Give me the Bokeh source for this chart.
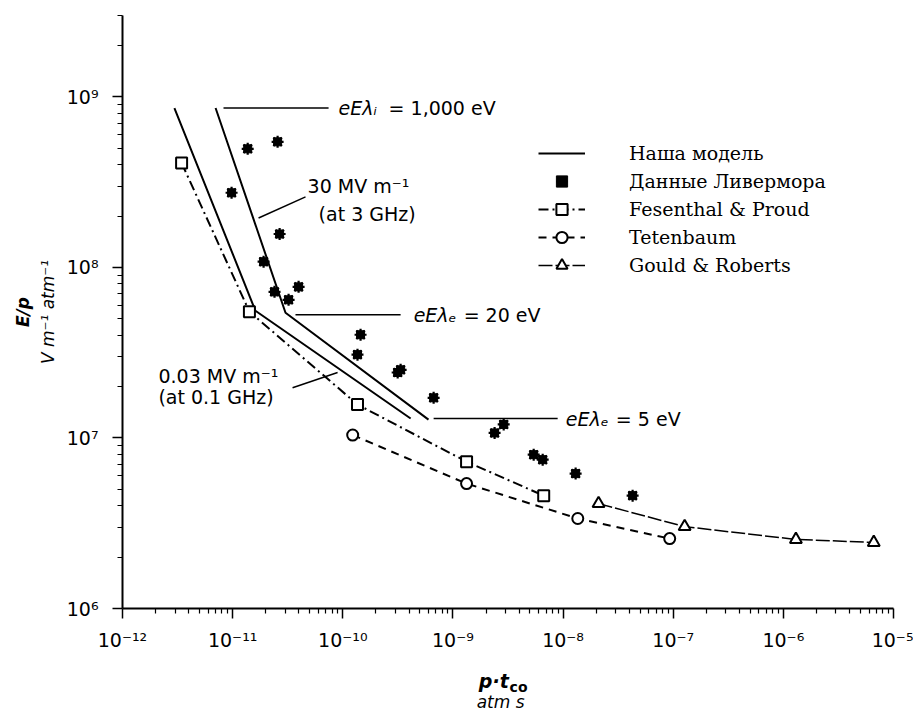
import math
from bokeh.plotting import figure
from bokeh.layouts import column
from bokeh.models import (Range1d, FixedTicker, CustomJSTickFormatter, Label,
                          Legend, LegendItem, Title)
from bokeh.embed import file_html
from bokeh.resources import INLINE

# ---------------- data ----------------
# Our model: two solid lines
model_a_x = [7.0e-12, 3.02e-11, 6.0e-10]
model_a_y = [8.6e8, 5.42e7, 1.28e7]
model_b_x = [2.96e-12, 1.61e-11, 4.13e-10]
model_b_y = [8.6e8, 5.57e7, 1.30e7]

# Livermore data (stars)
liv_x = [1.37e-11, 2.56e-11, 9.78e-12, 2.67e-11, 1.91e-11, 2.40e-11, 3.97e-11,
         3.22e-11, 1.45e-10, 1.36e-10, 3.15e-10, 3.35e-10, 6.68e-10, 2.39e-9,
         2.89e-9, 5.41e-9, 6.53e-9, 1.30e-8, 4.28e-8]
liv_y = [4.96e8, 5.45e8, 2.74e8, 1.57e8, 1.08e8, 7.19e7, 7.69e7,
         6.46e7, 4.03e7, 3.08e7, 2.42e7, 2.51e7, 1.72e7, 1.07e7,
         1.20e7, 7.98e6, 7.46e6, 6.18e6, 4.59e6]

# Fesenthal & Proud (squares, dash-dot)
fes_x = [3.44e-12, 1.42e-11, 1.36e-10, 1.33e-9, 6.67e-9]
fes_y = [4.10e8, 5.50e7, 1.57e7, 7.26e6, 4.59e6]

# Tetenbaum (circles, dashed)
tet_x = [1.23e-10, 1.33e-9, 1.36e-8, 9.29e-8]
tet_y = [1.04e7, 5.40e6, 3.37e6, 2.57e6]

# Gould & Roberts (triangles)
gou_x = [2.10e-8, 1.27e-7, 1.30e-6, 6.62e-6]
gou_y = [4.12e6, 3.02e6, 2.54e6, 2.44e6]

legend_labels = ["Наша модель", "Данные Ливермора", "Fesenthal & Proud",
                 "Tetenbaum", "Gould & Roberts"]

x_major = [1e-12, 1e-11, 1e-10, 1e-9, 1e-8, 1e-7, 1e-6, 1e-5]
y_major = [1e6, 1e7, 1e8, 1e9]

W = 913
FONT = "DejaVu Sans"

# ---------------- figure ----------------
p = figure(width=W, height=655, x_axis_type="log", y_axis_type="log",
           x_range=Range1d(1e-12, 1e-5), y_range=Range1d(1e6, 3e9),
           output_backend="svg", toolbar_location=None,
           min_border_left=122, min_border_right=20,
           min_border_top=15, min_border_bottom=47)
p.outline_line_color = None
p.grid.visible = False
p.background_fill_color = "white"
p.border_fill_color = "white"

def minors(majors):
    out = []
    for m in majors[:-1]:
        for k in range(2, 10):
            out.append(m * k)
    return out

y_minor = minors(y_major) + [2e9, 3e9]
p.xaxis.ticker = FixedTicker(ticks=x_major, minor_ticks=minors(x_major))
p.yaxis.ticker = FixedTicker(ticks=y_major, minor_ticks=y_minor)

fmt_code = """
const e = Math.round(Math.log10(tick));
const sup = {'-':'\u207b','0':'\u2070','1':'\u00b9','2':'\u00b2','3':'\u00b3',
             '4':'\u2074','5':'\u2075','6':'\u2076','7':'\u2077','8':'\u2078','9':'\u2079'};
return '10' + String(e).split('').map(c => sup[c]).join('');
"""
for ax in (p.xaxis, p.yaxis):
    ax.formatter = CustomJSTickFormatter(code=fmt_code)
    ax.axis_line_width = 2
    ax.axis_line_color = "black"
    ax.major_tick_line_width = 1.5
    ax.minor_tick_line_width = 1.2
    ax.major_tick_line_color = "black"
    ax.minor_tick_line_color = "black"
    ax.major_tick_out = 10
    ax.major_tick_in = 0
    ax.minor_tick_out = 5
    ax.minor_tick_in = 0
    ax.major_label_text_font = FONT
    ax.major_label_text_font_size = "19px"
    ax.major_label_text_color = "black"
p.xaxis.major_label_standoff = 10
p.yaxis.major_label_standoff = 14

# y-axis title: two stacked titles on the left
p.add_layout(Title(text="V m\u207b\u00b9 atm\u207b\u00b9", align="center",
                   text_font=FONT, text_font_size="17px", text_color="black",
                   text_font_style="italic", standoff=11), "left")
p.add_layout(Title(text="E/p", align="center", text_color="black",
                   text_font=FONT, text_font_size="17px",
                   text_font_style="bold italic", standoff=-5), "left")

# ---------------- series ----------------
r_ma = p.line(model_a_x, model_a_y, line_color="black", line_width=2)
r_mb = p.line(model_b_x, model_b_y, line_color="black", line_width=2)

r_liv_sq = p.scatter(liv_x, liv_y, marker="square", size=8,
                     fill_color="black", line_color="black")
r_liv_as = p.scatter(liv_x, liv_y, marker="asterisk", size=12,
                     line_color="black", line_width=2.2)

r_fes_l = p.line(fes_x, fes_y, line_color="black", line_width=2,
                 line_dash="10 4 2 4")
r_fes_m = p.scatter(fes_x, fes_y, marker="square", size=11,
                    fill_color="white", line_color="black", line_width=2)

r_tet_l = p.line(tet_x, tet_y, line_color="black", line_width=2,
                 line_dash="8 6")
r_tet_m = p.scatter(tet_x, tet_y, marker="circle", size=11,
                    fill_color="white", line_color="black", line_width=2)

r_gou_l = p.line(gou_x, gou_y, line_color="black", line_width=1.5,
                 line_dash="14 3")
r_gou_m = p.scatter(gou_x, gou_y, marker="triangle", size=12,
                    fill_color="white", line_color="black", line_width=2)

# ---------------- annotations ----------------
leaders = [
    ([8.26e-12, 7.43e-11], [8.6e8, 8.6e8]),
    ([3.72e-11, 3.35e-10], [5.27e7, 5.27e7]),
    ([6.68e-10, 8.93e-9], [1.30e7, 1.30e7]),
    ([1.72e-11, 4.59e-11], [1.95e8, 2.59e8]),
    ([3.50e-11, 8.97e-11], [1.97e7, 2.42e7]),
]
for lx, ly in leaders:
    p.line(lx, ly, line_color="black", line_width=1.5)

# energy annotations: italic symbol part + upright value part
energy_notes = [
    ("eE\u03bb\u1d62", "= 1,000 eV", 9.16e-11, 8.6e8),
    ("eE\u03bb\u2091", "= 20 eV", 4.40e-10, 5.27e7),
    ("eE\u03bb\u2091", "= 5 eV", 1.06e-8, 1.30e7),
]
for sym, val, x, y in energy_notes:
    p.add_layout(Label(x=x, y=y, text=sym, text_font=FONT,
                       text_font_size="19px", text_font_style="italic",
                       text_align="left", text_baseline="middle",
                       text_color="black"))
    p.add_layout(Label(x=x, y=y, x_offset=50, text=val, text_font=FONT,
                       text_font_size="19px", text_align="left",
                       text_baseline="middle", text_color="black"))

notes = [
    ("30 MV m\u207b\u00b9", 4.79e-11, 3.01e8),
    ("(at 3 GHz)", 6.03e-11, 2.06e8),
    ("0.03 MV m\u207b\u00b9", 2.12e-12, 2.32e7),
    ("(at 0.1 GHz)", 2.12e-12, 1.75e7),
]
for t, x, y in notes:
    p.add_layout(Label(x=x, y=y, text=t, text_font=FONT,
                       text_font_size="19px", text_align="left",
                       text_baseline="middle", text_color="black"))

# ---------------- legend ----------------
items = [
    LegendItem(label=legend_labels[0], renderers=[r_ma]),
    LegendItem(label=legend_labels[1], renderers=[r_liv_sq, r_liv_as]),
    LegendItem(label=legend_labels[2], renderers=[r_fes_l, r_fes_m]),
    LegendItem(label=legend_labels[3], renderers=[r_tet_l, r_tet_m]),
    LegendItem(label=legend_labels[4], renderers=[r_gou_l, r_gou_m]),
]
legend = Legend(items=items, location=(416, 329), glyph_width=47,
                glyph_height=28, label_height=28, spacing=0, padding=0,
                margin=0, label_standoff=44, border_line_color=None,
                background_fill_alpha=0, label_text_font="DejaVu Serif",
                label_text_font_size="19px", label_text_color="black")
p.add_layout(legend)

# ---------------- x-axis title strip (shares the x scale) ----------------
p2 = figure(width=W, height=56, x_axis_type="log", x_range=p.x_range,
            y_range=Range1d(0, 1), output_backend="svg",
            toolbar_location=None, x_axis_location=None,
            y_axis_location=None, min_border_left=122, min_border_right=20,
            min_border_top=0, min_border_bottom=0)
p2.outline_line_color = None
p2.grid.visible = False
p2.background_fill_color = "white"
p2.border_fill_color = "white"
p2.add_layout(Label(x=3.21e-9, y=0.54, text="p\u00b7t", text_color="black",
                    text_font=FONT, text_font_size="19px",
                    text_font_style="bold italic", text_align="right",
                    text_baseline="middle"))
p2.add_layout(Label(x=3.27e-9, y=0.44, text="co", text_color="black",
                    text_font=FONT, text_font_size="14px",
                    text_font_style="bold", text_align="left",
                    text_baseline="middle"))
p2.add_layout(Label(x=2.71e-9, y=0.17, text="atm s", text_color="black",
                    text_font=FONT, text_font_size="17px",
                    text_font_style="italic", text_align="center",
                    text_baseline="middle"))

layout = column(p, p2, spacing=0)
open("out.html", "w").write(file_html(layout, INLINE))
